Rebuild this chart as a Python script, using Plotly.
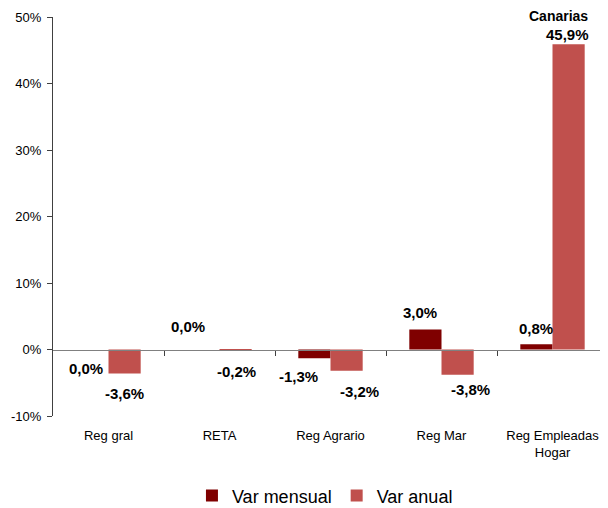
import plotly.graph_objects as go

categories = ["Reg gral", "RETA", "Reg Agrario", "Reg Mar", "Reg Empleadas<br>Hogar"]
var_mensual = [0.0, 0.0, -1.3, 3.0, 0.8]
var_anual = [-3.6, -0.2, -3.2, -3.8, 45.9]
y_ticks = [-10, 0, 10, 20, 30, 40, 50]
y_tick_labels = [f"{v}%" for v in y_ticks]

# label placement (pixel offsets from bar end): (dx, dy)
mensual_offsets = [(-7, -19), (-16, 23), (-16, -18), (-6, 17), (-1, 16)]
anual_offsets = [(0, -20), (1, -21), (13, -21), (13, -15), (-1, 10)]

DARK = "#7F0000"
LIGHT = "#C0504D"
FONT = "Liberation Sans, Arial, sans-serif"

def fmt(v):
    return f"{v:.1f}".replace(".", ",") + "%"

fig = go.Figure()
fig.add_trace(go.Bar(x=categories, y=var_mensual, name="Var mensual",
                     marker=dict(color=DARK, line=dict(width=0))))
fig.add_trace(go.Bar(x=categories, y=var_anual, name="Var anual",
                     marker=dict(color=LIGHT, line=dict(width=0))))

annotations = []
for i, c in enumerate(categories):
    for vals, offs, shift in ((var_mensual, mensual_offsets, -16), (var_anual, anual_offsets, 16)):
        dx, dy = offs[i]
        annotations.append(dict(x=i, xref="x", y=vals[i], yref="y", text=fmt(vals[i]),
                                showarrow=False, xshift=shift + dx, yshift=dy,
                                font=dict(family=FONT, size=15, color="black", weight="bold"),
                                xanchor="center", yanchor="middle"))
annotations.append(dict(x=(550 - 45) / 555, xref="paper", y=1, yref="paper", text="Canarias",
                        showarrow=False, borderpad=0,
                        font=dict(family=FONT, size=14, color="black", weight="bold"),
                        xanchor="center", yanchor="top", yshift=10))

fig.update_layout(
    width=600, height=500,
    margin=dict(l=45, r=0, t=9, b=92, autoexpand=False),
    paper_bgcolor="white", plot_bgcolor="white",
    barmode="group", bargap=0.42, bargroupgap=0,
    font=dict(family=FONT, size=13, color="black"),
    showlegend=True,
    legend=dict(orientation="h", x=0.49, xanchor="center", y=-0.20, yanchor="middle",
                font=dict(family=FONT, size=18, color="black"), itemwidth=30,
                traceorder="normal"),
    annotations=annotations,
    xaxis=dict(type="category", range=[-0.5, 4.5], showline=False, ticks="", showgrid=False,
               zeroline=False, automargin=False, ticklabelstandoff=10,
               tickfont=dict(family=FONT, size=13)),
    xaxis2=dict(overlaying="x", anchor="free", position=1/6, range=[-0.5, 4.5],
                tickvals=[0.5, 1.5, 2.5, 3.5], ticks="outside", ticklen=5, tickcolor="#404040",
                showticklabels=False, showline=True, linecolor="#808080", linewidth=1.3,
                showgrid=False, zeroline=False, automargin=False),
    yaxis=dict(range=[-10, 50], tickvals=y_ticks, ticktext=y_tick_labels, ticks="outside",
               ticklen=5, tickcolor="#404040", showline=True, linecolor="#404040", linewidth=1,
               showgrid=False, zeroline=False, automargin=False, ticklabelstandoff=3,
               tickfont=dict(family=FONT, size=13)),
)
fig.add_trace(go.Scatter(x=[None], y=[None], xaxis="x2", showlegend=False, hoverinfo="skip"))

fig.write_html("out.html")
